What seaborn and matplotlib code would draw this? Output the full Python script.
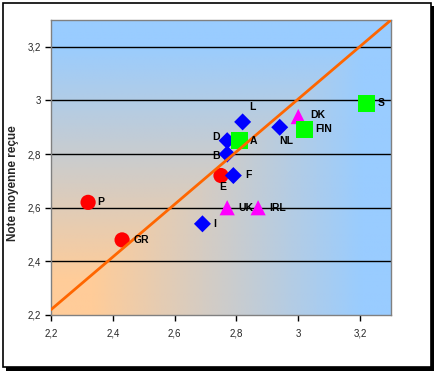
import matplotlib
matplotlib.use("Agg")
import matplotlib.pyplot as plt
import matplotlib.patches as mpatches
from matplotlib.colors import LinearSegmentedColormap
from matplotlib.ticker import FuncFormatter
import numpy as np
import pandas as pd
import seaborn as sns

# ── Data ──────────────────────────────────────────────────────────────────────
countries = ["P", "GR", "E", "UK", "IRL", "DK", "I", "F", "L", "D", "B", "NL",
             "A", "FIN", "S"]
x_vals    = [2.32, 2.43, 2.75, 2.77, 2.87, 3.00, 2.69, 2.79, 2.82, 2.77, 2.77,
             2.94, 2.81, 3.02, 3.22]
y_vals    = [2.62, 2.48, 2.72, 2.60, 2.60, 2.94, 2.54, 2.72, 2.92, 2.85, 2.80,
             2.90, 2.85, 2.89, 2.99]
groups    = ["sud", "sud", "sud", "anglo", "anglo", "anglo", "cont", "cont",
             "cont", "cont", "cont", "cont", "nord", "nord", "nord"]

line_x = [2.2, 3.3]
line_y = [2.22, 3.30]

ticks = [2.2, 2.4, 2.6, 2.8, 3.0, 3.2]

df = pd.DataFrame({"pays": countries, "x": x_vals, "y": y_vals, "groupe": groups})

# ── Styles ────────────────────────────────────────────────────────────────────
group_style = {
    "sud":   dict(marker="o", color="#FF0000", s=120),
    "anglo": dict(marker="^", color="#FF00FF", s=120),
    "cont":  dict(marker="D", color="#0000FF", s=75),
    "nord":  dict(marker="s", color="#00FF00", s=150),
}

# label offsets in pixels (dx, dy, ha)
label_off = {
    "P": (9, 0, "left"), "GR": (12, 0, "left"), "E": (2, -11, "center"),
    "UK": (11, 0, "left"), "IRL": (11, 0, "left"), "DK": (12, 2, "left"),
    "I": (11, 0, "left"), "F": (12, 1, "left"), "L": (7, 15, "left"),
    "D": (-7, 4, "right"), "B": (-7, -2, "right"), "NL": (0, -14, "left"),
    "A": (10, 0, "left"), "FIN": (11, 1, "left"), "S": (11, 0, "left"),
}

sns.set_theme(style="white")
plt.rcParams["font.family"] = ["Liberation Sans", "DejaVu Sans"]

W, H = 437, 372
fig = plt.figure(figsize=(W / 100, H / 100), dpi=100)
fig.patch.set_facecolor("white")

# outer frame with shadow
fig.patches.append(mpatches.Rectangle((6 / W, 1 - 371 / H), 428 / W, 365 / H,
                                      transform=fig.transFigure,
                                      facecolor="black", edgecolor="none", zorder=-2))
fig.patches.append(mpatches.Rectangle((3 / W, 1 - 367 / H), 428 / W, 364 / H,
                                      transform=fig.transFigure,
                                      facecolor="white", edgecolor="black",
                                      linewidth=1.2, zorder=-1))

ax = fig.add_axes([51 / W, 1 - 315 / H, 340 / W, 295 / H])
ax.set_zorder(1)
ax.set_xlim(2.2, 3.3)
ax.set_ylim(2.2, 3.3)

# corner gradient background
u = np.linspace(0, 1, 300)
U, V = np.meshgrid(u, u)
T = np.clip((np.maximum(U, V) - 0.12) / 0.8, 0, 1)
cmap = LinearSegmentedColormap.from_list("bg", ["#FFCC99", "#CCCCCC", "#99CCFF"])
ax.imshow(T, extent=[2.2, 3.3, 2.2, 3.3], origin="lower", aspect="auto",
          cmap=cmap, vmin=0, vmax=1, zorder=0)

for yv in ticks[1:]:
    ax.axhline(yv, color="black", linewidth=1.0, zorder=1)

for g in ["sud", "anglo", "cont", "nord"]:
    st = group_style[g]
    sub = df[df["groupe"] == g]
    sns.scatterplot(data=sub, x="x", y="y", ax=ax, marker=st["marker"],
                    color=st["color"], s=st["s"], edgecolor="none",
                    linewidth=0, zorder=2, legend=False)

sns.lineplot(x=line_x, y=line_y, ax=ax, color="#FF6600", linewidth=2.0, zorder=3)

for _, r in df.iterrows():
    dx, dy, ha = label_off[r["pays"]]
    ax.annotate(r["pays"], (r["x"], r["y"]), xytext=(dx * 0.72, dy * 0.72),
                textcoords="offset points", ha=ha, va="center",
                fontsize=7.5, fontweight="bold", color="black", zorder=4)

fmt = FuncFormatter(lambda v, _: f"{v:g}".replace(".", ","))
ax.set_xticks(ticks)
ax.set_yticks(ticks)
ax.xaxis.set_major_formatter(fmt)
ax.yaxis.set_major_formatter(fmt)
ax.tick_params(axis="both", direction="out", length=4, width=1, labelsize=7,
               color="black", pad=3, bottom=True, left=True)
ax.tick_params(axis="x", pad=6)
ax.set_xlabel("")
ax.set_ylabel("")
for sp in ax.spines.values():
    sp.set_color("#808080")
    sp.set_linewidth(1.0)

fig.text(13 / W, 1 - 183 / H, "Note moyenne reçue", rotation=90,
         ha="center", va="center", fontsize=8.5, fontweight="bold")

fig.savefig("out.png", dpi=100, facecolor="white")
